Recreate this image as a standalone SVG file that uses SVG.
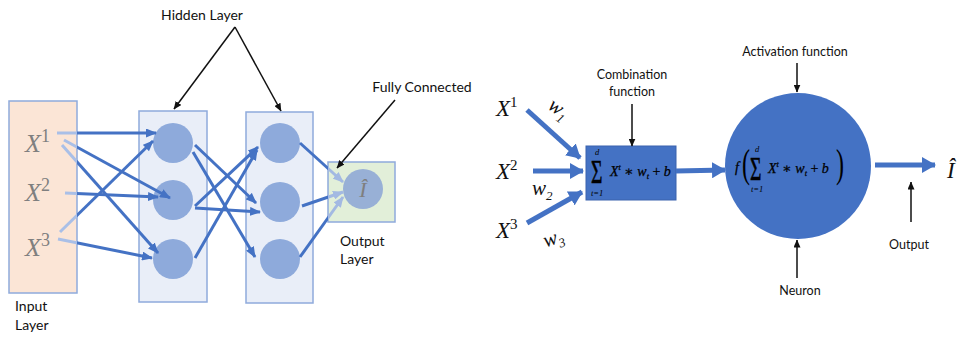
<svg xmlns="http://www.w3.org/2000/svg" width="965" height="338" viewBox="0 0 965 338">
  <style>
    .lbl { font-family: Lato, "Liberation Sans", sans-serif; font-size: 14px; fill: #111; }
    .lbl-s { font-family: Lato, "Liberation Sans", sans-serif; font-size: 12.5px; fill: #111; }
    .math { font-family: "Liberation Serif", "DejaVu Serif", serif; font-style: italic; }
    .xg { fill: #7f7f7f; font-size: 26px; }
    .xk { fill: #111; font-size: 23px; }
    .fm { font-family: "Liberation Serif", "DejaVu Serif", serif; font-style: italic; fill: #000; font-size: 14px; stroke: #000; stroke-width: 0.25; }
    .lim { font-family: "Liberation Serif", "DejaVu Serif", serif; font-style: italic; fill: #000; font-size: 8.5px; }
    .sig { font-family: "Liberation Serif", "DejaVu Serif", serif; fill: #000; font-size: 28px; stroke: #000; stroke-width: 0.5; }
    .par { font-family: "Liberation Serif", "DejaVu Serif", serif; fill: #000; font-size: 40px; }
    .box { stroke: #8faadc; stroke-width: 1.5; }
    .hid { fill: #e9eef8; }
    .unit { fill: #8eaadb; }
    .wire { stroke: url(#fadeIn); stroke-width: 3; fill: none; marker-end: url(#ab); }
    .wire2 { stroke: #4472c4; stroke-width: 3; fill: none; marker-end: url(#ab); }
    .wireo { stroke: url(#fadeOut); stroke-width: 3; fill: none; marker-end: url(#abl); }
    .thick { stroke: #4472c4; stroke-width: 5; fill: none; marker-end: url(#big); }
    .ptr { stroke: #111; stroke-width: 1.5; fill: none; marker-end: url(#blk); }
  </style>
  <defs>
    <marker id="ab" markerUnits="userSpaceOnUse" markerWidth="11" markerHeight="9" refX="10" refY="4.5" orient="auto">
      <path d="M0,0 L11,4.5 L0,9 z" fill="#4472c4"/>
    </marker>
    <marker id="abl" markerUnits="userSpaceOnUse" markerWidth="11" markerHeight="9" refX="10" refY="4.5" orient="auto">
      <path d="M0,0 L11,4.5 L0,9 z" fill="#a3b9e2"/>
    </marker>
    <marker id="big" markerUnits="userSpaceOnUse" markerWidth="14" markerHeight="16" refX="13" refY="8" orient="auto">
      <path d="M0,0 L14,8 L0,16 z" fill="#4472c4"/>
    </marker>
    <marker id="blk" markerUnits="userSpaceOnUse" markerWidth="8" markerHeight="7" refX="7.5" refY="3.5" orient="auto">
      <path d="M0,0 L8,3.5 L0,7 z" fill="#111"/>
    </marker>
    <!-- lines leaving the input panel are pale until they cross its edge -->
    <linearGradient id="fadeIn" gradientUnits="userSpaceOnUse" x1="0" y1="0" x2="965" y2="0">
      <stop offset="0.08" stop-color="#a9bfe7"/>
      <stop offset="0.08" stop-color="#4472c4"/>
    </linearGradient>
    <!-- lines entering the output panel turn pale at its edge -->
    <linearGradient id="fadeOut" gradientUnits="userSpaceOnUse" x1="0" y1="0" x2="965" y2="0">
      <stop offset="0.34" stop-color="#4472c4"/>
      <stop offset="0.34" stop-color="#a3b9e2"/>
    </linearGradient>
  </defs>

  <!-- ===== Left: fully connected network ===== -->
  <g id="input-layer">
    <rect class="box" x="9" y="101" width="68" height="192" fill="#fbe5d6"/>
    <text class="math xg" x="25" y="152">X<tspan font-size="18" dy="-10" font-style="normal">1</tspan></text>
    <text class="math xg" x="25" y="201">X<tspan font-size="18" dy="-10" font-style="normal">2</tspan></text>
    <text class="math xg" x="25" y="256">X<tspan font-size="18" dy="-10" font-style="normal">3</tspan></text>
    <text class="lbl" x="15" y="311">Input</text>
    <text class="lbl" x="15" y="330">Layer</text>
  </g>

  <g id="hidden-layer-1">
    <rect class="box hid" x="139" y="111" width="68" height="191"/>
    <circle class="unit" cx="173" cy="143" r="20"/>
    <circle class="unit" cx="173" cy="200" r="20"/>
    <circle class="unit" cx="173" cy="259" r="20"/>
  </g>

  <g id="hidden-layer-2">
    <rect class="box hid" x="246" y="112" width="67" height="191"/>
    <circle class="unit" cx="280" cy="143" r="20"/>
    <circle class="unit" cx="280" cy="202" r="20"/>
    <circle class="unit" cx="280" cy="259" r="20"/>
  </g>

  <g id="output-layer">
    <rect class="box" x="328" y="162" width="67" height="60" fill="#e2efd9"/>
    <circle cx="363" cy="189" r="20" fill="#98b0d6"/>
    <text class="math" x="363" y="197" font-size="22" fill="#7f7f7f" text-anchor="middle">Î</text>
    <text class="lbl" x="340" y="246">Output</text>
    <text class="lbl" x="340" y="264">Layer</text>
  </g>

  <g id="labels-left">
    <text class="lbl" x="202" y="20" text-anchor="middle">Hidden Layer</text>
    <text class="lbl" x="422" y="92" text-anchor="middle">Fully Connected</text>
  </g>

  <g id="connectors-left">
    <!-- input to hidden 1 -->
    <path class="wire" d="M57,133 L156,133"/>
    <path class="wire" d="M64,140 L170,198"/>
    <path class="wire" d="M62,145 L158,253"/>
    <path class="wire" d="M65,193 L158,197"/>
    <path class="wire" d="M60,232 L153,141"/>
    <path class="wire" d="M58,239 L152,258" marker-end="url(#abl)"/>
    <!-- hidden 1 to hidden 2 -->
    <path class="wire2" d="M195,145 L256,203"/>
    <path class="wire2" d="M193,152 L255,257"/>
    <path class="wire2" d="M195,206 L258,147"/>
    <path class="wire2" d="M195,208 L260,212"/>
    <path class="wire2" d="M195,258 L257,150"/>
    <!-- hidden 2 to output -->
    <path class="wireo" d="M300,143 L343,182"/>
    <path class="wireo" d="M302,206 L343,192"/>
    <path class="wireo" d="M300,257 L343,197"/>
    <!-- callout pointers -->
    <path class="ptr" d="M235,27 L174,109"/>
    <path class="ptr" d="M235,27 L281,111"/>
    <path class="ptr" d="M395,100 L337,168"/>
  </g>

  <!-- ===== Right: single neuron ===== -->
  <g id="inputs-right">
    <text class="math xk" x="496" y="116">X<tspan font-size="15" dy="-9" font-style="normal">1</tspan></text>
    <text class="math xk" x="496" y="179">X<tspan font-size="15" dy="-9" font-style="normal">2</tspan></text>
    <text class="math xk" x="496" y="238">X<tspan font-size="15" dy="-9" font-style="normal">3</tspan></text>
    <text class="math" x="546" y="114" font-size="21" fill="#111" transform="rotate(35 556 112)">w<tspan font-size="13" dy="5">1</tspan></text>
    <text class="math" x="532" y="195" font-size="21" fill="#111">w<tspan font-size="13" dy="5">2</tspan></text>
    <text class="math" x="543" y="244" font-size="21" fill="#111" transform="rotate(-18 555 238)">w<tspan font-size="13" dy="5">3</tspan></text>
  </g>

  <g id="combination">
    <rect x="586" y="146" width="90" height="54" fill="#4472c4" stroke="#3a63ad" stroke-width="1"/>
    <text class="sig" transform="translate(591 183) scale(0.7 1.2)">Σ</text>
    <text class="lim" x="595" y="155">d</text>
    <text class="lim" x="591" y="196">t=1</text>
    <text class="fm" x="610" y="176">X<tspan dy="-6" font-size="8">t</tspan><tspan dy="6" font-style="normal"> ∗ </tspan>w<tspan dy="3" font-size="8">t</tspan><tspan dy="-3" font-style="normal"> + </tspan>b</text>
    <text class="lbl-s" x="632" y="79" text-anchor="middle">Combination</text>
    <text class="lbl-s" x="632" y="96" text-anchor="middle">function</text>
  </g>

  <g id="neuron">
    <circle cx="798" cy="166" r="73" fill="#4472c4"/>
    <text class="fm" x="735" y="172" font-size="13">f</text>
    <text class="par" transform="translate(742 177) scale(0.6 1)">(</text>
    <text class="sig" transform="translate(750 180) scale(0.7 1.2)">Σ</text>
    <text class="lim" x="755" y="152">d</text>
    <text class="lim" x="751" y="192">t=1</text>
    <text class="fm" x="768" y="173">X<tspan dy="-6" font-size="8">t</tspan><tspan dy="6" font-style="normal"> ∗ </tspan>w<tspan dy="3" font-size="8">t</tspan><tspan dy="-3" font-style="normal"> + </tspan>b</text>
    <text class="par" transform="translate(836 177) scale(0.6 1)">)</text>
    <text class="lbl-s" x="795" y="56" text-anchor="middle">Activation function</text>
    <text class="lbl-s" x="800" y="295" text-anchor="middle">Neuron</text>
  </g>

  <g id="output-right">
    <text class="math" x="947" y="178" font-size="23" fill="#111">Î</text>
    <text class="lbl-s" x="909" y="249" text-anchor="middle">Output</text>
  </g>

  <g id="connectors-right">
    <path class="thick" d="M527,110 L580,158"/>
    <path class="thick" d="M533,171 L583,171"/>
    <path class="thick" d="M527,223 L582,192"/>
    <path class="thick" d="M676,171 L725,170"/>
    <path class="thick" d="M875,165 L935,165"/>
    <path class="ptr" d="M632,104 L632,146"/>
    <path class="ptr" d="M797,63 L797,92"/>
    <path class="ptr" d="M911,222 L911,182"/>
    <path class="ptr" d="M797,278 L797,240"/>
  </g>
</svg>
